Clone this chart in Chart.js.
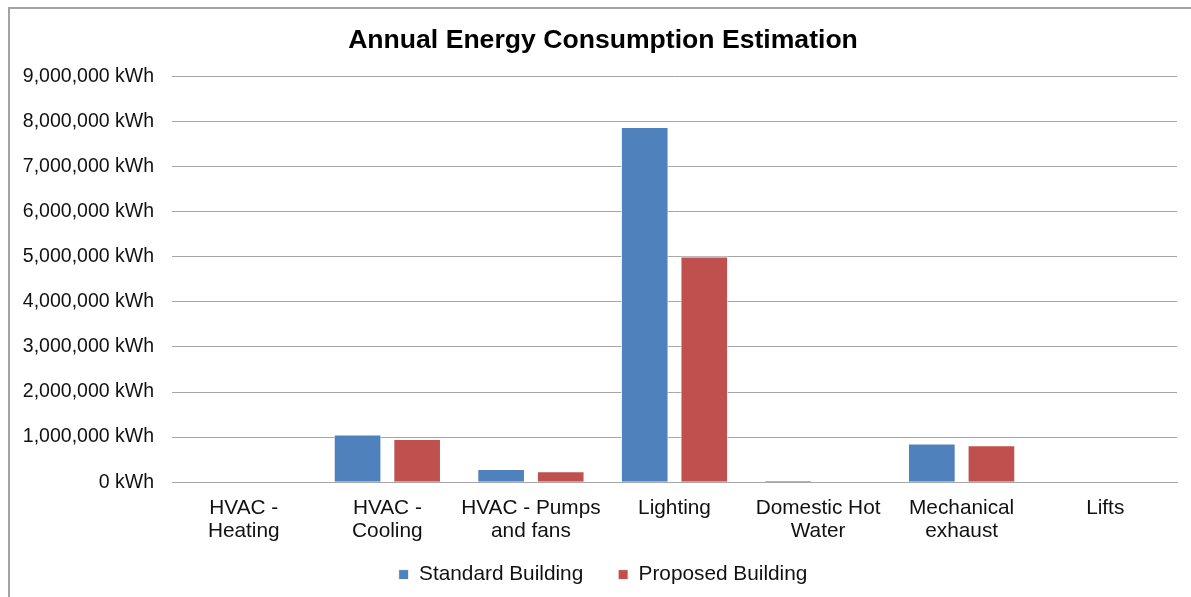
<!DOCTYPE html>
<html lang="en">
<head>
    <meta charset="UTF-8">
    <title>Annual Energy Consumption Estimation</title>
    <script src="https://cdn.jsdelivr.net/npm/chart.js"></script>
    <style>
        html, body { margin: 0; padding: 0; background: #fff; overflow: hidden; }
        #frame {
            position: absolute; left: 8px; top: 7px;
            width: 1220px; height: 700px;
            border: 2px solid #a3a3a3;
        }
        #wrap { position: absolute; left: 0; top: 0; width: 1197px; height: 597px; }
    </style>
    <script>
        // Category labels (split to match the two-line layout)
        const categories = [
            ['HVAC -', 'Heating'],
            ['HVAC -', 'Cooling'],
            ['HVAC - Pumps', 'and fans'],
            ['Lighting'],
            ['Domestic Hot', 'Water'],
            ['Mechanical', 'exhaust'],
            ['Lifts']
        ];

        // Annual consumption in kWh
        const standardBuilding = [0, 1060000, 290000, 7880000, 40000, 860000, 0];
        const proposedBuilding = [0, 960000, 240000, 5010000, 0, 820000, 0];

        const seriesNames = ['Standard Building', 'Proposed Building'];
        const seriesColors = ['#4F81BD', '#C0504D'];

        const yMax = 9000000;
        const yStep = 1000000;

        function buildChart() {
            const ctx = document.getElementById('energyChart').getContext('2d');
            const font = 'Arial, "Liberation Sans", sans-serif';

            new Chart(ctx, {
                type: 'bar',
                data: {
                    labels: categories,
                    datasets: [
                        {
                            label: seriesNames[0],
                            data: standardBuilding,
                            backgroundColor: seriesColors[0],
                            borderColor: 'rgba(255,255,255,0.9)',
                            borderWidth: 1
                        },
                        {
                            label: seriesNames[1],
                            data: proposedBuilding,
                            backgroundColor: seriesColors[1],
                            borderColor: 'rgba(255,255,255,0.9)',
                            borderWidth: 1
                        }
                    ]
                },
                options: {
                    responsive: false,
                    animation: false,
                    categoryPercentage: 0.83,
                    barPercentage: 0.8,
                    layout: { padding: { left: 9, right: 0, top: 25, bottom: 2 } },
                    plugins: {
                        title: {
                            display: true,
                            text: 'Annual Energy Consumption Estimation',
                            color: '#000',
                            font: { family: font, size: 26.6, weight: 'bold', lineHeight: 1.15 },
                            padding: { top: 0, bottom: 21 }
                        },
                        legend: {
                            position: 'bottom',
                            labels: {
                                color: '#111',
                                font: { family: font, size: 20.8 },
                                boxWidth: 10,
                                boxHeight: 10,
                                padding: 6,
                                // extra gap after the first entry, like the original
                                generateLabels: chart => {
                                    const items = Chart.defaults.plugins.legend.labels.generateLabels(chart);
                                    items[0].text = items[0].text + '     ';
                                    return items;
                                }
                            }
                        },
                        tooltip: { enabled: false }
                    },
                    scales: {
                        x: {
                            grid: { display: false, drawTicks: false },
                            border: { display: true, color: '#a6a6a6', width: 1 },
                            ticks: {
                                color: '#111',
                                font: { family: font, size: 20.8, lineHeight: 1.106 },
                                padding: 15,
                                maxRotation: 0,
                                autoSkip: false
                            }
                        },
                        y: {
                            min: 0,
                            max: yMax,
                            grid: { color: '#a6a6a6', lineWidth: 1, drawTicks: false },
                            border: { display: false },
                            ticks: {
                                stepSize: yStep,
                                color: '#111',
                                font: { family: font, size: 19.5 },
                                padding: 18,
                                callback: v => v.toLocaleString('en-US') + ' kWh'
                            },
                            afterFit: scale => { scale.width = 163; }
                        },
                        // empty spacer on the right so title and legend sit centred on the frame
                        spacer: {
                            type: 'linear',
                            position: 'right',
                            grid: { display: false, drawTicks: false },
                            border: { display: false },
                            ticks: { display: false },
                            afterFit: scale => { scale.width = 20; }
                        }
                    }
                }
            });
        }

        window.onload = buildChart;
    </script>
</head>
<body>
    <div id="frame"></div>
    <div id="wrap">
        <canvas id="energyChart" width="1197" height="597"></canvas>
    </div>
</body>
</html>
